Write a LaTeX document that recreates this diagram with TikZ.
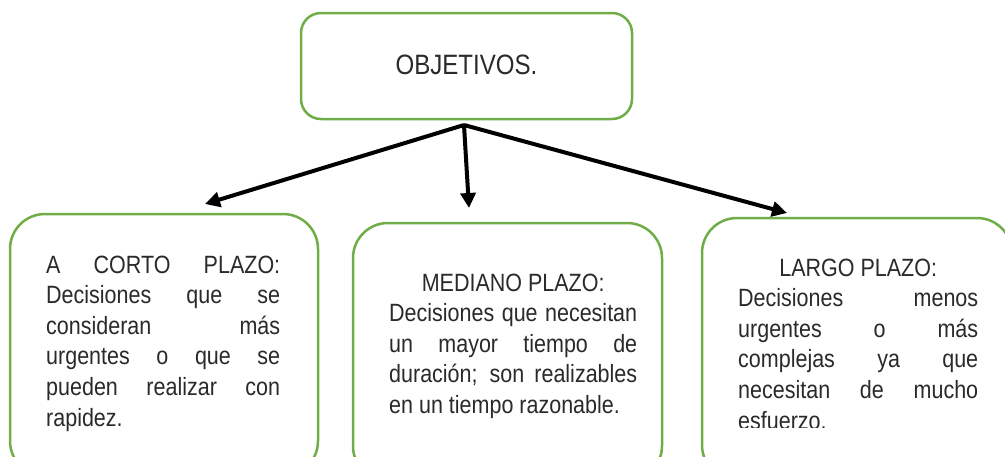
\documentclass[tikz,border=0pt]{standalone}
\usepackage{fontspec}
\setmainfont{Liberation Sans}[FakeStretch=0.86]
\usetikzlibrary{arrows.meta}
\definecolor{boxgreen}{HTML}{70AD47}
\definecolor{txtcol}{HTML}{2A2A2A}
\tikzset{
  gbox/.style={draw=boxgreen, line width=2.5pt, rounded corners=35pt, inner sep=0pt},
  topbox/.style={draw=boxgreen, line width=2.5pt, rounded corners=20pt, minimum width=331pt, minimum height=106pt, inner sep=0pt, text=txtcol, font=\fontsize{28pt}{32pt}\selectfont},
  arr/.style={draw=black, line width=4pt, -{Triangle[length=15pt,width=15pt]}},
  txtnode/.style={inner sep=0pt, anchor=base west, text=txtcol},
}
\newcommand\jtext[2]{\parbox[t]{#1}{\fontsize{25pt}{30.6pt}\selectfont\parindent=0pt\tolerance=10000\hbadness=10000\hyphenpenalty=10000\exhyphenpenalty=10000 #2}}
\begin{document}
\begin{tikzpicture}[x=1pt,y=-1pt]
\useasboundingbox (0,0) rectangle (1005,456);
\clip (0,0) rectangle (1005,456);
% boxes
\node[topbox] (obj) at (466.5,66) {\raisebox{2.5pt}{OBJETIVOS.}};
\node[gbox, minimum width=308pt, minimum height=262pt] (corto) at (164,345) {};
\node[gbox, minimum width=309pt, minimum height=258pt] (mediano) at (507.5,352) {};
\node[gbox, minimum width=310pt, minimum height=262pt] (largo) at (857,349) {};
% texts
\node[txtnode] (tcorto) at (46,273) {\jtext{234pt}{A CORTO PLAZO:\linebreak Decisiones que se\linebreak consideran más\linebreak urgentes o que se\linebreak pueden realizar con\linebreak rapidez.}};
\node[txtnode] (tmediano) at (389,291) {\jtext{248pt}{\centerline{MEDIANO PLAZO:}Decisiones que necesitan\linebreak un mayor tiempo de\linebreak duración; son realizables\linebreak en un tiempo razonable.}};
\begin{scope}
\clip (700,200) rectangle (1005,427);
\node[txtnode] (tlargo) at (738,276) {\jtext{240pt}{\centerline{LARGO PLAZO:}Decisiones menos\linebreak urgentes o más\linebreak complejas ya que\linebreak necesitan de mucho\linebreak esfuerzo.}};
\end{scope}
% connectors
\coordinate (src) at (464,125);
\coordinate (lt) at (205,204);
\coordinate (mt) at (469,208);
\coordinate (rt) at (787,213);
\draw[arr] (src) -- (lt);
\draw[arr] (src) -- (mt);
\draw[arr] (src) -- (rt);
\end{tikzpicture}
\end{document}
